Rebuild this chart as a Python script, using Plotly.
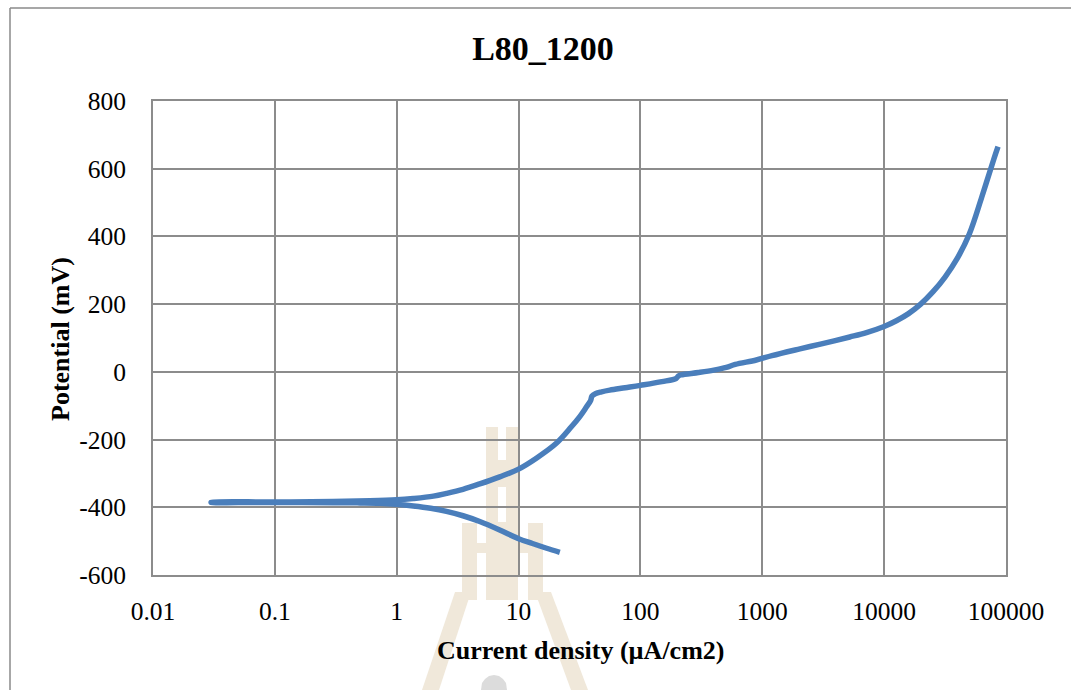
import plotly.graph_objects as go

# Polarization curve for sample L80_1200 (current density in µA/cm2, potential in mV)
# Cathodic branch, traced from its far end back toward the corrosion potential
cathodic_current = [21.8, 17, 13, 9.9, 7, 4.8, 3.5, 2.56, 1.9, 1.37, 1.0, 0.73, 0.5, 0.3, 0.1, 0.05, 0.03]
cathodic_potential = [-533, -521, -507, -492, -467, -442, -425, -412, -403, -396, -391, -388, -387, -386.5, -386, -386, -386]

# Anodic branch, from the corrosion potential up to the end of the scan
anodic_current = [0.03, 0.1, 0.3, 0.6, 1.0, 1.37, 2.0, 2.56, 3.5, 4.8, 7, 9.9, 14, 20.4, 27, 31.8,
                  36, 39, 40, 43, 48, 56, 75, 100, 150, 197, 205, 215, 300, 400, 507, 600, 893,
                  1200, 2037, 3000, 5224, 7160, 10000, 12600, 15850, 19950, 25100, 31600, 39800,
                  50100, 63100, 79400, 86000]
anodic_potential = [-385, -384.5, -383, -381, -378, -374, -367, -359, -347, -331, -310, -288, -255, -211, -163, -132,
                    -104, -85, -72, -64, -59, -54, -47, -40, -29, -19, -12, -9, -2, 5, 13, 22, 35,
                    48, 68, 82, 103, 116, 134, 151, 172, 200, 236, 280, 335,
                    408, 515, 628, 665]

x_ticks = [0.01, 0.1, 1, 10, 100, 1000, 10000, 100000]
x_tick_text = ["0.01", "0.1", "1", "10", "100", "1000", "10000", "100000"]
y_ticks = [-600, -400, -200, 0, 200, 400, 600, 800]
y_tick_text = ["-600", "-400", "-200", "0", "200", "400", "600", "800"]

W, H = 1071, 690
L, R, T, B = 153, 1006, 101, 575

current = cathodic_current + anodic_current
potential = cathodic_potential + anodic_potential

SERIF = "Liberation Serif, Times New Roman, serif"
GRID = "#8c8c8c"
TAN = "#f0e8da"


def px(x):
    return (x - L) / (R - L)


def py(y):
    return (B - y) / (B - T)


def rect(x0, y0, x1, y1, color):
    return dict(type="rect", xref="paper", yref="paper", layer="below",
                x0=px(x0), x1=px(x1), y0=py(y1), y1=py(y0),
                fillcolor=color, line=dict(width=0))


def poly(points, color):
    path = "M " + " L ".join(f"{px(a):.5f},{py(b):.5f}" for a, b in points) + " Z"
    return dict(type="path", xref="paper", yref="paper", layer="below",
                path=path, fillcolor=color, line=dict(width=0))


def edge(x0, y0, x1, y1):
    return dict(type="line", xref="paper", yref="paper", layer="above",
                x0=px(x0), x1=px(x1), y0=py(y0), y1=py(y1),
                line=dict(color="#8a8a8a", width=1.5))


# faint background emblem (kept inside the page)
shapes = [
    rect(486, 427, 518, 600, TAN),
    rect(498, 427, 506, 460, "white"),
    rect(498, 487, 506, 522, "white"),
    rect(462, 523, 477, 600, TAN),
    rect(528, 523, 543, 600, TAN),
    rect(462, 543, 543, 553, TAN),
    poly([(455, 592), (471, 592), (439, 690), (422, 690)], TAN),
    poly([(535, 592), (551, 592), (588, 690), (571, 690)], TAN),
    # top half-disc cut by the page bottom
    poly([(481, 690), (482, 683), (485, 679), (489, 676), (494, 675), (499, 676),
          (503, 679), (506, 683), (507, 690)], "#dcdcdc"),
    # chart frame (top and left edges)
    edge(10, 8, 1071, 8),
    edge(10, 8, 10, 690),
]

fig = go.Figure()
fig.add_trace(go.Scatter(
    x=current, y=potential, mode="lines",
    line=dict(color="#4a7ebb", width=5.5, shape="spline", smoothing=1.0),
    showlegend=False, hoverinfo="x+y",
))

axis_common = dict(
    showgrid=True, gridcolor=GRID, gridwidth=2,
    showline=True, linecolor=GRID, linewidth=2, mirror=True,
    zeroline=False, ticks="",
    tickfont=dict(family=SERIF, size=25.5, color="black"),
)

fig.update_xaxes(type="log", range=[-2, 5], tickvals=x_ticks, ticktext=x_tick_text,
                 ticklabelstandoff=12, **axis_common)
fig.update_yaxes(range=[-600, 800], tickvals=y_ticks, ticktext=y_tick_text,
                 ticklabelstandoff=20, **axis_common)

fig.update_layout(
    width=W, height=H,
    margin=dict(l=L, r=W - R, t=T, b=H - B),
    paper_bgcolor="white", plot_bgcolor="rgba(0,0,0,0)",
    shapes=shapes,
    title=dict(text="<b>L80_1200</b>", x=543 / W, xanchor="center",
               y=1 - 48 / H, yanchor="middle",
               font=dict(family=SERIF, size=34, color="black")),
    annotations=[
        dict(text="<b>Current density (µA/cm2)</b>", xref="paper", yref="paper",
             x=px(580), y=py(650), xanchor="center", yanchor="middle", showarrow=False,
             font=dict(family=SERIF, size=26, color="black")),
        dict(text="<b>Potential (mV)</b>", xref="paper", yref="paper",
             x=px(60), y=py(339), xanchor="center", yanchor="middle", showarrow=False,
             textangle=-90, font=dict(family=SERIF, size=26, color="black")),
    ],
)

fig.write_html("out.html")
